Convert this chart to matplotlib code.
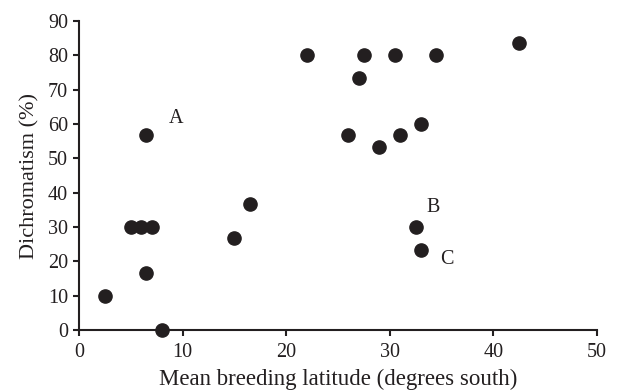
import matplotlib
matplotlib.use("Agg")
import matplotlib.pyplot as plt

# mean breeding latitude (degrees south) and dichromatism (%)
latitude = [2.5, 5.0, 6.0, 7.0, 6.5, 6.5, 8.0, 15.0, 16.5,
            22.0, 27.5, 30.5, 34.5, 42.5, 27.0, 26.0, 29.0, 31.0, 33.0,
            32.5, 33.0]
dichromatism = [10.0, 30.0, 30.0, 30.0, 16.7, 56.7, 0.0, 26.7, 36.7,
                80.0, 80.0, 80.0, 80.0, 83.5, 73.5, 56.7, 53.3, 56.7, 60.0,
                30.0, 23.3]

labels = ["A", "B", "C"]
label_x = [9.4, 34.2, 35.5]
label_y = [61.7, 35.7, 20.6]

ink = "#231f20"
plt.rcParams["font.family"] = ["Liberation Serif", "DejaVu Serif"]

fig = plt.figure(figsize=(6.18, 3.91), dpi=100)
ax = fig.add_axes([0.128, 0.156, 0.838, 0.790])

ax.plot(latitude, dichromatism, "o", color=ink, markersize=9.5,
        clip_on=False, zorder=3)

for txt, lx, ly in zip(labels, label_x, label_y):
    ax.text(lx, ly, txt, fontsize=14.5, color=ink, ha="center", va="center")

ax.set_xlim(0, 50)
ax.set_ylim(0, 90)
ax.set_xticks(range(0, 51, 10))
ax.set_yticks(range(0, 91, 10))
ax.spines["top"].set_visible(False)
ax.spines["right"].set_visible(False)
for side in ["left", "bottom"]:
    ax.spines[side].set_linewidth(1.5)
    ax.spines[side].set_color(ink)
ax.tick_params(direction="out", length=4, width=1.5, colors=ink,
               labelsize=14.5)
ax.tick_params(axis="x", pad=5.5)
ax.tick_params(axis="y", pad=4)

ax.set_xlabel("Mean breeding latitude (degrees south)", fontsize=16.5,
              color=ink, labelpad=5)
ax.set_ylabel("Dichromatism (%)", fontsize=16, color=ink, labelpad=6)

fig.savefig("out.png", dpi=100)
